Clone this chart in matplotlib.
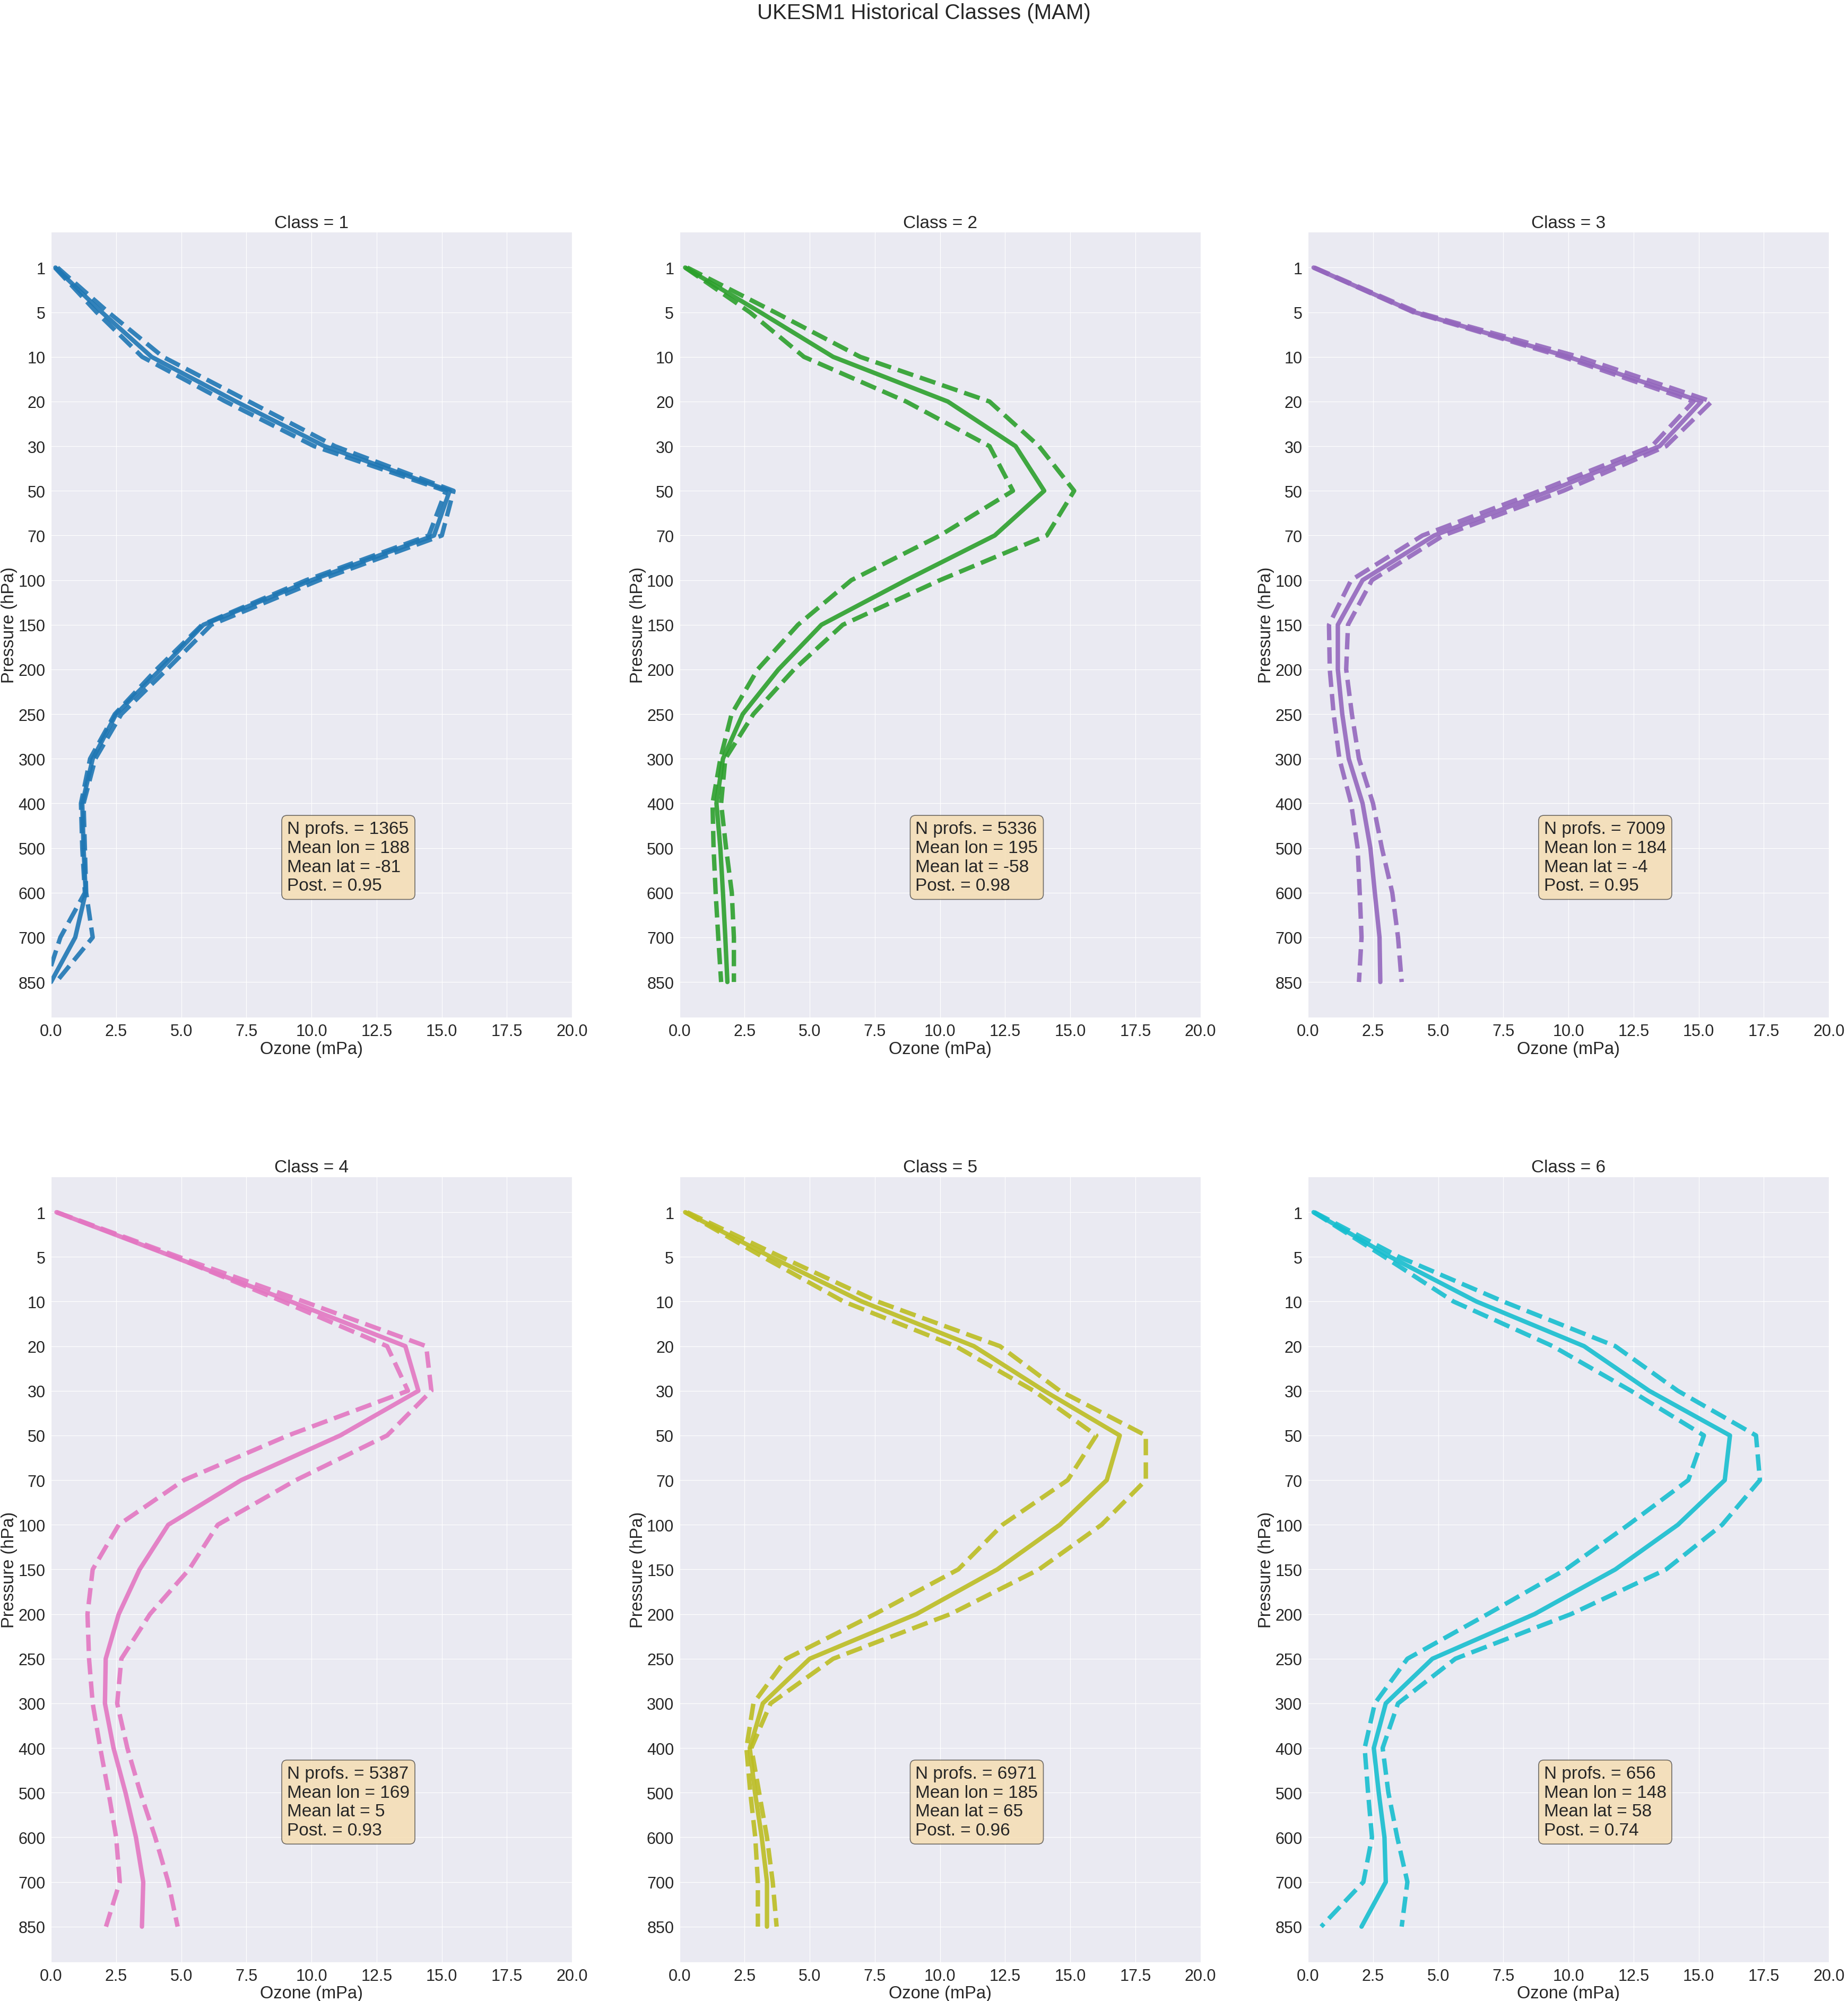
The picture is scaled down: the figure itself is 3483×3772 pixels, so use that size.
import matplotlib
matplotlib.use('Agg')
import matplotlib.pyplot as plt
import seaborn as sns

# pressure levels (hPa), plotted at evenly spaced positions
levels = [1, 5, 10, 20, 30, 50, 70, 100, 150, 200, 250, 300, 400, 500, 600, 700, 850]

class_ids = [1, 2, 3, 4, 5, 6]
colors = ['tab:blue', 'tab:green', 'tab:purple', 'tab:pink', 'tab:olive', 'tab:cyan']

# mean ozone profile per class (mPa)
mean_1 = [0.17, 1.95, 3.86, 7.1, 10.5, 15.3, 14.7, 10.0, 5.85, 4.2, 2.5, 1.6, 1.2, 1.25, 1.33, 0.93, 0.0]
mean_2 = [0.22, 3.1, 5.9, 10.3, 12.9, 14.0, 12.1, 8.7, 5.45, 3.8, 2.43, 1.67, 1.42, 1.57, 1.67, 1.76, 1.84]
mean_3 = [0.22, 4.1, 10.0, 15.1, 13.5, 9.3, 4.85, 2.1, 1.15, 1.15, 1.32, 1.57, 2.1, 2.4, 2.57, 2.75, 2.78]
mean_4 = [0.21, 4.7, 9.2, 13.6, 14.1, 11.1, 7.3, 4.5, 3.4, 2.6, 2.1, 2.07, 2.4, 2.86, 3.26, 3.54, 3.49]
mean_5 = [0.22, 3.5, 7.0, 11.3, 14.0, 16.9, 16.4, 14.6, 12.2, 9.1, 5.0, 3.2, 2.7, 2.9, 3.16, 3.36, 3.36]
mean_6 = [0.22, 3.16, 6.47, 10.6, 13.1, 16.2, 16.0, 14.2, 11.8, 8.7, 4.78, 2.99, 2.53, 2.72, 2.94, 2.99, 2.06]

# lower dashed bound
low_1 = [0.15, 1.75, 3.5, 6.7, 10.1, 15.15, 14.5, 9.8, 5.8, 4.05, 2.45, 1.5, 1.15, 1.2, 1.3, 0.36, -0.2]
low_2 = [0.22, 2.7, 4.78, 8.7, 11.9, 12.8, 10.0, 6.6, 4.55, 3.0, 2.0, 1.57, 1.27, 1.31, 1.39, 1.49, 1.6]
low_3 = [0.22, 4.05, 9.8, 14.8, 13.2, 8.9, 4.4, 1.66, 0.81, 0.84, 0.99, 1.21, 1.66, 1.91, 1.99, 2.06, 1.96]
low_4 = [0.21, 4.75, 8.9, 12.9, 13.7, 9.1, 5.1, 2.6, 1.6, 1.4, 1.46, 1.6, 1.89, 2.21, 2.5, 2.64, 2.11]
low_5 = [0.22, 3.2, 6.3, 10.6, 13.6, 16.0, 14.9, 12.4, 10.7, 7.5, 4.1, 2.84, 2.57, 2.72, 2.91, 3.01, 3.01]
low_6 = [0.22, 2.94, 5.59, 9.4, 12.4, 15.2, 14.6, 12.3, 9.9, 6.9, 3.82, 2.57, 2.18, 2.31, 2.46, 2.13, 0.51]

# upper dashed bound
high_1 = [0.25, 2.2, 4.3, 7.6, 10.9, 15.45, 15.0, 10.3, 6.15, 4.45, 2.7, 1.7, 1.25, 1.3, 1.35, 1.6, 0.2]
high_2 = [0.3, 3.66, 6.94, 11.9, 13.8, 15.15, 14.1, 10.0, 6.27, 4.4, 2.84, 1.76, 1.6, 1.79, 2.01, 2.09, 2.09]
high_3 = [0.25, 4.2, 10.4, 15.5, 13.75, 9.8, 5.2, 2.46, 1.54, 1.47, 1.69, 1.96, 2.5, 2.84, 3.24, 3.46, 3.6]
high_4 = [0.22, 4.9, 9.7, 14.4, 14.6, 12.9, 9.4, 6.4, 5.3, 3.8, 2.7, 2.54, 2.93, 3.43, 4.0, 4.5, 4.86]
high_5 = [0.3, 3.9, 7.6, 12.3, 14.6, 17.9, 17.9, 16.2, 13.8, 10.4, 5.9, 3.5, 2.76, 3.06, 3.36, 3.58, 3.73]
high_6 = [0.25, 3.5, 7.5, 11.8, 14.2, 17.2, 17.35, 15.9, 13.75, 10.1, 5.66, 3.46, 2.87, 3.09, 3.43, 3.82, 3.6]

n_profs = [1365, 5336, 7009, 5387, 6971, 656]
mean_lon = [188, 195, 184, 169, 185, 148]
mean_lat = [-81, -58, -4, 5, 65, 58]
posterior = [0.95, 0.98, 0.95, 0.93, 0.96, 0.74]

means = [mean_1, mean_2, mean_3, mean_4, mean_5, mean_6]
lows = [low_1, low_2, low_3, low_4, low_5, low_6]
highs = [high_1, high_2, high_3, high_4, high_5, high_6]

sns.set_style('darkgrid')
plt.rcParams['font.family'] = ['Liberation Sans', 'DejaVu Sans']

fig, axes = plt.subplots(2, 3, figsize=(34.83, 37.73), dpi=100)
fig.subplots_adjust(left=0.0276, right=0.9897, top=0.8839, bottom=0.0193,
                    wspace=0.206, hspace=0.202)

ypos = list(range(len(levels)))

for i, ax in enumerate(axes.flat):
    c = colors[i]
    ax.plot(means[i], ypos, color=c, lw=6, alpha=0.9)
    ax.plot(lows[i], ypos, color=c, lw=6, ls='--', alpha=0.9)
    ax.plot(highs[i], ypos, color=c, lw=6, ls='--', alpha=0.9)

    ax.set_xlim(0, 20)
    ax.set_ylim(len(levels) - 1 + 0.8, -0.8)
    ax.set_yticks(ypos)
    ax.set_yticklabels([str(p) for p in levels])
    ax.tick_params(axis='both', labelsize=22, pad=4)
    ax.set_xlabel('Ozone (mPa)', fontsize=23.5, labelpad=2)
    ax.set_ylabel('Pressure (hPa)', fontsize=23.5, labelpad=1)
    ax.set_title('Class = %d' % class_ids[i], fontsize=24, pad=6)

    txt = ('N profs. = %d\nMean lon = %d\nMean lat = %d\nPost. = %.2f'
           % (n_profs[i], mean_lon[i], mean_lat[i], posterior[i]))
    ax.text(0.453, 0.204, txt, transform=ax.transAxes, fontsize=24,
            ha='left', va='center',
            bbox=dict(boxstyle='round', facecolor=(0.96, 0.87, 0.70, 0.85),
                      edgecolor=(0.1, 0.1, 0.1, 0.6), linewidth=1.2))

fig.suptitle('UKESM1 Historical Classes (MAM)', fontsize=29, y=0.9985)

fig.savefig('out.png', dpi=100)
